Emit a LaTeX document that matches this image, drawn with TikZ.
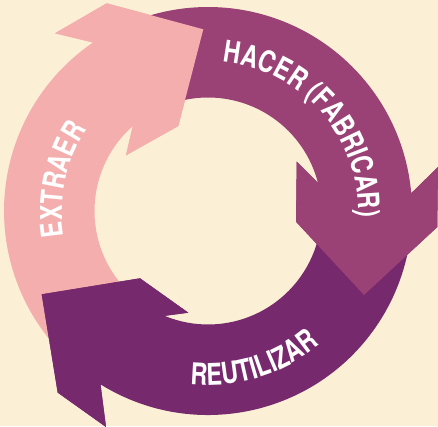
\documentclass[tikz,border=0pt]{standalone}
\usepackage{fontspec}
\newfontfamily\arclblfont[FakeStretch=0.78]{TeX Gyre Heros}
\newcommand\arclbl{\arclblfont\bfseries\fontsize{30}{30}\selectfont\color{white}}
\usetikzlibrary{decorations.text}
\definecolor{bgcream}{HTML}{FBF0D6}
\definecolor{pinkarr}{HTML}{F5AEAE}
\definecolor{midpurple}{HTML}{9A4175}
\definecolor{darkpurple}{HTML}{77296D}
\tikzset{
  pinkfill/.style={fill=pinkarr},
  midfill/.style={fill=midpurple},
  darkfill/.style={fill=darkpurple},
  arctext/.style={decorate,decoration={text along path,text align=center,text={|\arclbl|#1}}}
}
\begin{document}
\begin{tikzpicture}[x=1pt,y=1pt]
\useasboundingbox (0,0) rectangle (438,426);
\fill[bgcream] (0,0) rectangle (438,426);
\coordinate (O) at (208,215);
% head corners
\coordinate (pBi) at (126,270.7);
\coordinate (pCi) at (178.3,300);
\coordinate (pT) at (203.3,396.7);
\coordinate (pCo) at (106.7,422.7);
\coordinate (pBo) at (55,392.7);
\coordinate (mBi) at (296.7,264.3);
\coordinate (mCi) at (296,204.3);
\coordinate (mT) at (364,131);
\coordinate (mCo) at (437.3,199);
\coordinate (mBo) at (438,259);
\coordinate (dBi) at (188.3,113.3);
\coordinate (dCi) at (140,147.7);
\coordinate (dT) at (41.7,131.7);
\coordinate (dCo) at (57.7,33.4);
\coordinate (dBo) at (106,-1);
% full arrows
\fill[pinkfill] ([shift={(228:113.5)}]O) arc[start angle=228,end angle=131.5,radius=113.5]
  -- (pBi) -- (pCi) -- (pT) -- (pCo) -- (pBo)
  -- ([shift={(124.3:204)}]O) arc[start angle=124.3,end angle=228,radius=204] -- cycle;
\fill[midfill] ([shift={(115:113.5)}]O) arc[start angle=115,end angle=14.3,radius=113.5]
  -- (mBi) -- (mCi) -- (mT) -- (mCo) -- (mBo)
  -- ([shift={(5:204)}]O) arc[start angle=5,end angle=115,radius=204] -- cycle;
\fill[darkfill] ([shift={(355:113.5)}]O) arc[start angle=355,end angle=247.5,radius=113.5]
  -- (dBi) -- (dCi) -- (dT) -- (dCo) -- (dBo)
  -- ([shift={(238.2:204)}]O) arc[start angle=238.2,end angle=355,radius=204] -- cycle;
% heads on top
\fill[pinkfill] ([shift={(131.5:113.5)}]O) -- (pBi) -- (pCi) -- (pT) -- (pCo) -- (pBo) -- ([shift={(124.3:204)}]O) -- cycle;
\fill[midfill] ([shift={(14.3:113.5)}]O) -- (mBi) -- (mCi) -- (mT) -- (mCo) -- (mBo) -- ([shift={(5:204)}]O) -- cycle;
\fill[darkfill] ([shift={(247.5:113.5)}]O) -- (dBi) -- (dCi) -- (dT) -- (dCo) -- (dBo) -- ([shift={(238.2:204)}]O) -- cycle;
% labels
\path[arctext=EXTRAER] ([shift={(210:146)}]O) arc[start angle=210,end angle=126,radius=146];
\path[arctext={HACER (FABRICAR)}] ([shift={(100:150)}]O) arc[start angle=100,end angle=-18,radius=150];
\path[arctext=REUTILIZAR] ([shift={(240:174)}]O) arc[start angle=240,end angle=334,radius=174];
\end{tikzpicture}
\end{document}
